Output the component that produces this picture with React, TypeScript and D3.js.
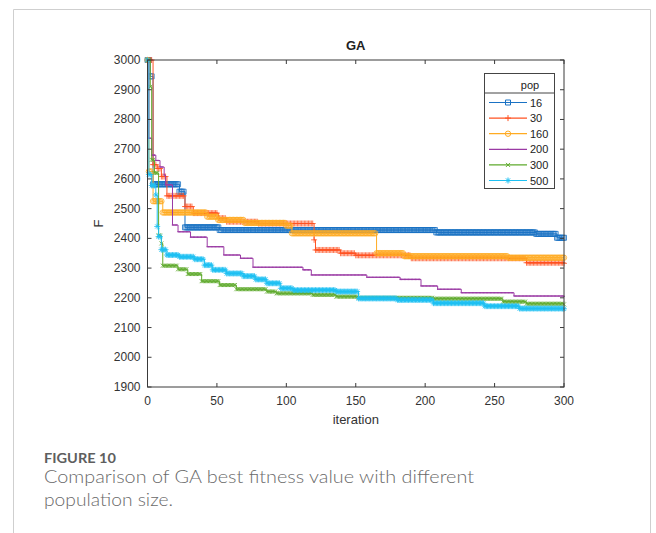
import React, { useEffect, useRef } from 'react';
import * as d3 from 'd3';

// GA best fitness by iteration, one list per population size.
// Each pair is [iteration where the best value changes, best value].
const popSizes = ['16', '30', '160', '200', '300', '500'];

const pop16 = [[0, 3000], [2, 2945], [4, 2582], [23, 2557], [27, 2437], [52, 2428], [208, 2420], [280, 2415], [295, 2402], [300, 2402]];
const pop30 = [[0, 3000], [4, 2648], [7, 2635], [10, 2608], [14, 2543], [27, 2507], [33, 2485], [51, 2468], [57, 2456], [80, 2450], [120, 2395], [121, 2361], [139, 2350], [150, 2343], [190, 2333], [273, 2318], [300, 2316]];
const pop160 = [[0, 3000], [1, 2625], [4, 2525], [11, 2487], [43, 2473], [51, 2462], [70, 2452], [100, 2443], [104, 2417], [165, 2350], [185, 2340], [260, 2335], [300, 2335]];
const pop200 = [[0, 3000], [1, 2737], [3, 2680], [6, 2662], [9, 2640], [12, 2613], [13, 2580], [18, 2445], [22, 2422], [31, 2404], [43, 2372], [55, 2344], [67, 2333], [76, 2303], [112, 2294], [118, 2277], [158, 2269], [182, 2262], [197, 2240], [209, 2229], [226, 2217], [264, 2206], [300, 2205]];
const pop300 = [[0, 3000], [2, 2910], [3, 2664], [5, 2620], [8, 2410], [10, 2383], [11, 2308], [22, 2296], [29, 2280], [39, 2256], [52, 2243], [64, 2229], [86, 2221], [93, 2215], [119, 2210], [136, 2204], [152, 2200], [206, 2197], [256, 2187], [273, 2180], [300, 2178]];
const pop500 = [[0, 3000], [1, 2615], [3, 2578], [6, 2546], [7, 2440], [8, 2406], [10, 2362], [14, 2344], [23, 2338], [34, 2330], [41, 2310], [47, 2294], [57, 2282], [69, 2273], [78, 2262], [86, 2249], [96, 2232], [105, 2226], [136, 2221], [152, 2198], [180, 2193], [206, 2182], [243, 2172], [268, 2164], [300, 2163]];

const xTicks = [0, 50, 100, 150, 200, 250, 300];
const yTicks = [1900, 2000, 2100, 2200, 2300, 2400, 2500, 2600, 2700, 2800, 2900, 3000];

const colors = ['#1a72c4', '#ff5222', '#ffab22', '#9a3aa4', '#5eaa2c', '#1ec0f2'];
const markerKinds = ['square', 'plus', 'circle', 'point', 'x', 'star'];

function markerPath(kind) {
  if (kind === 'square') return 'M-2.5,-2.5H2.5V2.5H-2.5Z';
  if (kind === 'plus') return 'M-3,0H3M0,-3V3';
  if (kind === 'circle') return 'M2.7,0A2.7,2.7 0 1 1 -2.7,0A2.7,2.7 0 1 1 2.7,0Z';
  if (kind === 'x') return 'M-2,-2L2,2M-2,2L2,-2';
  if (kind === 'star') return 'M-3,0H3M0,-3V3M-2.1,-2.1L2.1,2.1M-2.1,2.1L2.1,-2.1';
  return 'M0.8,0A0.8,0.8 0 1 1 -0.8,0A0.8,0.8 0 1 1 0.8,0Z';
}

// value held at each iteration (best-so-far stays until the next change)
function perIteration(steps) {
  const out = [];
  let k = 0;
  for (let i = 0; i <= 300; i++) {
    while (k + 1 < steps.length && steps[k + 1][0] <= i) k++;
    out.push([i, steps[k][1]]);
  }
  return out;
}

function App() {
  const ref = useRef(null);

  useEffect(() => {
    const svg = d3.select(ref.current);
    svg.selectAll('*').remove();

    const left = 147.5, right = 564, top = 60, bottom = 387;
    const x = d3.scaleLinear().domain([0, 300]).range([left, right]);
    const y = d3.scaleLinear().domain([1900, 3000]).range([bottom, top]);
    const axisColor = '#3a3a3a';
    const font = '"Liberation Sans", Arial, sans-serif';
    const capFont = 'Lato, "Open Sans", sans-serif';

    // outer figure frame
    svg.append('path')
      .attr('d', 'M13.5,533V9.5H650.5V533')
      .attr('fill', 'none')
      .attr('stroke', '#cfcfcf');

    svg.append('rect')
      .attr('x', left).attr('y', top)
      .attr('width', right - left).attr('height', bottom - top)
      .attr('fill', '#fff');

    const series = [pop16, pop30, pop160, pop200, pop300, pop500];
    const line = d3.line().x(d => x(d[0])).y(d => y(d[1])).curve(d3.curveStepAfter);

    series.forEach((steps, s) => {
      const g = svg.append('g');
      g.append('path')
        .attr('d', line(steps))
        .attr('fill', 'none')
        .attr('stroke', colors[s])
        .attr('stroke-width', 1);
      const kind = markerKinds[s];
      g.selectAll('path.m')
        .data(perIteration(steps))
        .enter()
        .append('path')
        .attr('class', 'm')
        .attr('transform', d => `translate(${x(d[0])},${y(d[1])})`)
        .attr('d', markerPath(kind))
        .attr('fill', kind === 'point' ? colors[s] : 'none')
        .attr('stroke', kind === 'point' ? 'none' : colors[s])
        .attr('stroke-width', 0.8);
    });

    // axes box
    svg.append('rect')
      .attr('x', left).attr('y', top)
      .attr('width', right - left).attr('height', bottom - top)
      .attr('fill', 'none')
      .attr('stroke', axisColor)
      .attr('stroke-width', 1);

    const ticks = svg.append('g').attr('stroke', axisColor).attr('stroke-width', 1);
    xTicks.forEach(t => {
      ticks.append('line').attr('x1', x(t)).attr('x2', x(t)).attr('y1', bottom).attr('y2', bottom - 4);
      ticks.append('line').attr('x1', x(t)).attr('x2', x(t)).attr('y1', top).attr('y2', top + 4);
    });
    yTicks.forEach(t => {
      ticks.append('line').attr('x1', left).attr('x2', left + 4).attr('y1', y(t)).attr('y2', y(t));
      ticks.append('line').attr('x1', right).attr('x2', right - 4).attr('y1', y(t)).attr('y2', y(t));
    });

    svg.append('g').selectAll('text')
      .data(xTicks).enter().append('text')
      .attr('x', d => x(d)).attr('y', bottom + 18)
      .attr('text-anchor', 'middle')
      .attr('font-family', font).attr('font-size', 12).attr('fill', '#333')
      .text(d => d);

    svg.append('g').selectAll('text')
      .data(yTicks).enter().append('text')
      .attr('x', left - 7).attr('y', d => y(d) + 4)
      .attr('text-anchor', 'end')
      .attr('font-family', font).attr('font-size', 12).attr('fill', '#333')
      .text(d => d);

    svg.append('text')
      .attr('x', (left + right) / 2).attr('y', 424)
      .attr('text-anchor', 'middle')
      .attr('font-family', font).attr('font-size', 13).attr('fill', '#333')
      .text('iteration');

    svg.append('text')
      .attr('transform', `translate(103,${(top + bottom) / 2}) rotate(-90)`)
      .attr('text-anchor', 'middle')
      .attr('font-family', font).attr('font-size', 13).attr('fill', '#333')
      .text('F');

    svg.append('text')
      .attr('x', (left + right) / 2).attr('y', 50)
      .attr('text-anchor', 'middle')
      .attr('font-family', font).attr('font-size', 13).attr('font-weight', 'bold').attr('fill', '#222')
      .text('GA');

    // legend
    const lg = svg.append('g');
    const lx = 484.5, ly = 73.5, lw = 70, lh = 115;
    lg.append('rect').attr('x', lx).attr('y', ly).attr('width', lw).attr('height', lh)
      .attr('fill', '#fff').attr('stroke', '#444').attr('stroke-width', 1);
    lg.append('line').attr('x1', lx).attr('x2', lx + lw).attr('y1', 93).attr('y2', 93)
      .attr('stroke', '#444');
    lg.append('text').attr('x', 530).attr('y', 89)
      .attr('text-anchor', 'middle')
      .attr('font-family', font).attr('font-size', 11).attr('fill', '#222')
      .text('pop');
    popSizes.forEach((p, s) => {
      const ry = 102.5 + s * 15.6;
      lg.append('line').attr('x1', 489).attr('x2', 527).attr('y1', ry).attr('y2', ry)
        .attr('stroke', colors[s]).attr('stroke-width', 1.2);
      const kind = markerKinds[s];
      lg.append('path').attr('transform', `translate(508,${ry})`)
        .attr('d', markerPath(kind))
        .attr('fill', kind === 'point' ? colors[s] : 'none')
        .attr('stroke', kind === 'point' ? 'none' : colors[s])
        .attr('stroke-width', 1);
      lg.append('text').attr('x', 530).attr('y', ry + 4)
        .attr('font-family', font).attr('font-size', 11).attr('fill', '#222')
        .text(p);
    });

    // caption
    svg.append('text')
      .attr('x', 44).attr('y', 463)
      .attr('font-family', capFont).attr('font-size', 13).attr('font-weight', 'bold')
      .attr('fill', '#5e5e5e')
      .attr('textLength', 72).attr('lengthAdjust', 'spacingAndGlyphs')
      .text('FIGURE 10');
    svg.append('text')
      .attr('x', 44).attr('y', 483)
      .attr('font-family', capFont).attr('font-size', 18).attr('font-weight', 300)
      .attr('fill', '#6a6a6a')
      .attr('textLength', 430).attr('lengthAdjust', 'spacingAndGlyphs')
      .text('Comparison of GA best fitness value with different');
    svg.append('text')
      .attr('x', 44).attr('y', 506)
      .attr('font-family', capFont).attr('font-size', 18).attr('font-weight', 300)
      .attr('fill', '#6a6a6a')
      .attr('textLength', 129).attr('lengthAdjust', 'spacingAndGlyphs')
      .text('population size.');
  }, []);

  return (
    <svg ref={ref} width={656} height={533}
      style={{ position: 'absolute', left: 0, top: 0, background: '#fff' }} />
  );
}

export default App;
